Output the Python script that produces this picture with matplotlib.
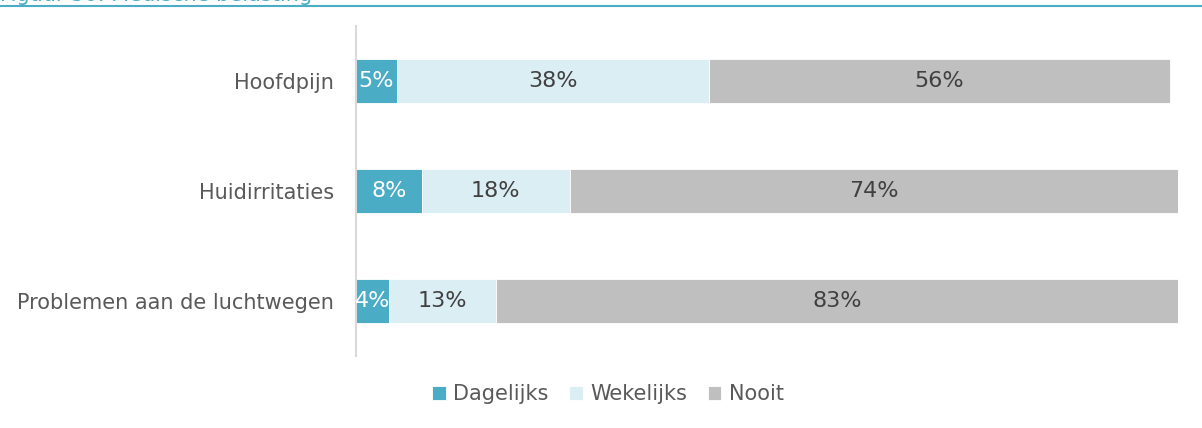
import matplotlib
matplotlib.use("Agg")
import matplotlib.pyplot as plt

categories = ["Hoofdpijn", "Huidirritaties", "Problemen aan de luchtwegen"]
series_names = ["Dagelijks", "Wekelijks", "Nooit"]
dagelijks = [5, 8, 4]
wekelijks = [38, 18, 13]
nooit = [56, 74, 83]
title = "Figuur 30: Medische belasting"

colors = ["#4BACC6", "#DBEEF4", "#BFBFBF"]
label_colors = ["white", "#404040", "#404040"]
text_color = "#595959"
teal = "#4BACC6"

plt.rcParams["font.family"] = ["DejaVu Sans"]

W, H = 1202, 428
fig = plt.figure(figsize=(W / 100, H / 100), dpi=100)
ax = fig.add_axes([356 / W, 1 - 356 / H, (1178 - 356) / W, (356 - 26) / H])

ypos = list(range(len(categories)))
left = [0] * len(categories)
for name, vals, col, lc in zip(series_names, [dagelijks, wekelijks, nooit], colors, label_colors):
    bars = ax.barh(ypos, vals, left=left, height=0.4, color=col, label=name,
                   edgecolor="white", linewidth=0.6)
    for b, v in zip(bars, vals):
        ax.text(b.get_x() + b.get_width() / 2, b.get_y() + b.get_height() / 2,
                f"{v}%", ha="center", va="center", color=lc, fontsize=16)
    left = [l + v for l, v in zip(left, vals)]

ax.set_xlim(0, 100)
ax.set_ylim(2.5, -0.5)
ax.set_yticks(ypos)
ax.set_yticklabels(categories, fontsize=15, color=text_color)
ax.tick_params(axis="y", length=0, pad=16)
ax.set_xticks([])
for s in ["top", "right", "bottom"]:
    ax.spines[s].set_visible(False)
ax.spines["left"].set_color("#D9D9D9")
ax.spines["left"].set_linewidth(1.5)

fig.legend(loc="center", bbox_to_anchor=(608 / W, 1 - 394 / H), ncol=3,
           frameon=False, fontsize=15, handlelength=0.65, handleheight=0.65,
           handletextpad=0.35, columnspacing=1.0, labelcolor=text_color)

# page heading above the chart, mostly beyond the top edge
fig.text(0.0, 1 - 1 / H, title, color=teal, fontsize=15, va="baseline", ha="left")
fig.add_artist(plt.Line2D([0, 1201 / W], [1 - 5.5 / H, 1 - 5.5 / H],
                          transform=fig.transFigure, color=teal, linewidth=1.5))

fig.savefig("out.png", dpi=100)
